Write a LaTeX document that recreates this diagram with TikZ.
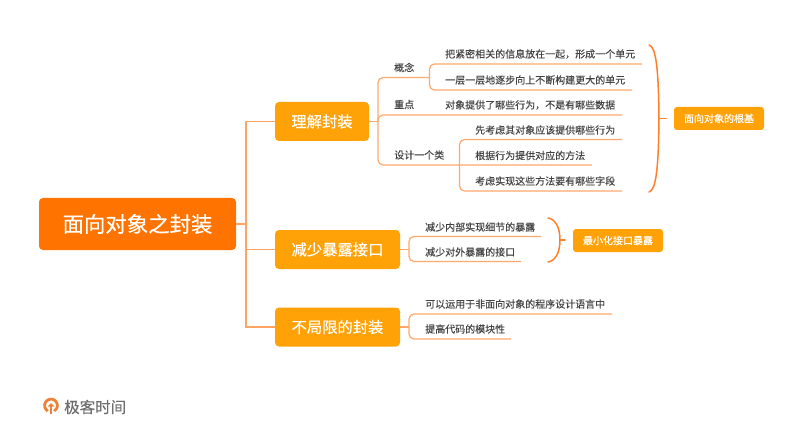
\documentclass[tikz,border=0pt]{standalone}
\usepackage{fontspec}
\setmainfont{Noto Sans CJK SC}
\newfontfamily\boxfont[FakeBold=0.35]{Noto Sans CJK SC}
\newfontfamily\leaffont[FakeBold=0.15]{Noto Sans CJK SC}
\usepackage{tikz}
\usetikzlibrary{positioning}
\definecolor{rootfill}{HTML}{FF7300}
\definecolor{mainfill}{HTML}{FFA208}
\definecolor{linkcol}{HTML}{FFA86B}
\definecolor{bracecol}{HTML}{FF7F2A}
\definecolor{textcol}{HTML}{444444}
\definecolor{logocol}{HTML}{EE8136}
\definecolor{logotext}{HTML}{6E6E6E}

\begin{document}
\begin{tikzpicture}[x=1pt, y=-1pt,
            root/.style = {fill=rootfill, text=white, rounded corners=4pt, font=\boxfont\fontsize{21.4}{24}\selectfont, inner sep=0pt, minimum width=197pt, minimum height=52pt},
            main/.style = {fill=mainfill, text=white, rounded corners=4pt, font=\boxfont\fontsize{15.3}{18}\selectfont, inner sep=0pt, minimum height=39pt},
            note/.style = {fill=mainfill, text=white, rounded corners=3pt, font=\boxfont\fontsize{10}{12}\selectfont, inner sep=0pt, minimum width=90pt, minimum height=23pt},
            leaf/.style = {anchor=west, text=textcol, font=\leaffont\fontsize{10}{12}\selectfont, inner sep=0pt},
            link/.style = {draw=linkcol, line width=1.2pt, rounded corners=5pt},
            trunk/.style = {draw=linkcol!90!bracecol, line width=1.6pt},
            curly/.style = {draw=bracecol, line width=1.5pt, line cap=round}]
            \useasboundingbox (0,0) rectangle (785,433);

            % boxes
            \node[root] (root) at (137.5,224) {面向对象之封装};
            \node[main, minimum width=94pt] (m1) at (322,121.5) {理解封装};
            \node[main, minimum width=125pt] (m2) at (337.5,249.5) {减少暴露接口};
            \node[main, minimum width=125pt] (m3) at (337.5,327) {不局限的封装};
            \node[note] (n1) at (719,118.5) {面向对象的根基};
            \node[note] (n2) at (618,240.5) {最小化接口暴露};

            % texts of the first box
            \node[leaf] (t1) at (394,67.5) {概念};
            \node[leaf] (t2) [below=37pt of t1.west, anchor=west] {重点};
            \node[leaf] (t3) [below=50.5pt of t2.west, anchor=west] {设计一个类};
            \node[leaf] (a1) at (445,54) {把紧密相关的信息放在一起，形成一个单元};
            \node[leaf] (a2) [below=26pt of a1.west, anchor=west] {一层一层地逐步向上不断构建更大的单元};
            \node[leaf] (a3) [below=25pt of a2.west, anchor=west] {对象提供了哪些行为，不是有哪些数据};
            \node[leaf] (b1) at (475,130) {先考虑其对象应该提供哪些行为};
            \node[leaf] (b2) [below=25.5pt of b1.west, anchor=west] {根据行为提供对应的方法};
            \node[leaf] (b3) [below=25.5pt of b2.west, anchor=west] {考虑实现这些方法要有哪些字段};

            % texts of the other two boxes
            \node[leaf] (c1) at (425,227) {减少内部实现细节的暴露};
            \node[leaf] (c2) [below=25pt of c1.west, anchor=west] {减少对外暴露的接口};
            \node[leaf] (d1) at (425,304) {可以运用于非面向对象的程序设计语言中};
            \node[leaf] (d2) [below=25pt of d1.west, anchor=west] {提高代码的模块性};

            % ends of the lines
            \coordinate (trunktop) at (246,121.5);
            \coordinate (trunkmid) at (246,224);
            \coordinate (trunkm2) at (246,249.5);
            \coordinate (trunkend) at (246,327);
            \coordinate (s1) at (378,121.5);
            \coordinate (s2) at (409,249.5);
            \coordinate (s3) at (409,327);
            \coordinate (f1) at (429.5,77.5);
            \coordinate (f2) at (459.5,165);
            \coordinate (t2e) at (622,115);
            \coordinate (t3e) at (592,165);
            \coordinate (a1e) at (642,64);
            \coordinate (a2e) at (632,90);
            \coordinate (b1e) at (622,139.5);
            \coordinate (b3e) at (622,191);
            \coordinate (c1e) at (541,236.5);
            \coordinate (c2e) at (521,261.5);
            \coordinate (d1e) at (612,314);
            \coordinate (d2e) at (511,339);

            \draw[trunk] (root.east) -- (trunkmid);
            \draw[trunk] (m1.west) -- (trunktop) -- (trunkend) -- (m3.west);
            \draw[trunk] (trunkm2) -- (m2.west);

            \draw[link] (m1.east) -- (s1);
            \draw[link] (s1) |- (f1);
            \draw[link] (s1) |- (t2e);
            \draw[link] (s1) |- (t3e);
            \draw[link] (f1) |- (a1e);
            \draw[link] (f1) |- (a2e);
            \draw[link] (f2) |- (b1e);
            \draw[link] (f2) |- (b3e);

            \draw[link] (m2.east) -- (s2);
            \draw[link] (s2) |- (c1e);
            \draw[link] (s2) |- (c2e);
            \draw[link] (m3.east) -- (s3);
            \draw[link] (s3) |- (d1e);
            \draw[link] (s3) |- (d2e);

            % braces
            \coordinate (k1) at (659,118.5);
            \coordinate (k2) at (666,118.5);
            \coordinate (k3) at (560,240);
            \coordinate (k4) at (565,240);
            \draw[curly] (649,45) .. controls (656,47) and (658.5,68) .. (k1) .. controls (658.5,169) and (656,190) .. (649,192);
            \draw[curly] (k1) -- (k2);
            \draw[curly] (548,218) .. controls (555,219) and (560,227) .. (k3) .. controls (560,253) and (555,261) .. (548,262);
            \draw[curly] (k3) -- (k4);

            % logo
            \draw[logocol, line width=2.8pt] (51,405.5) ++(120:6.4) arc (120:420:6.4);
            \draw[logocol, line width=1.6pt] (51,414) -- (51,405);
            \fill[logocol] (47.5,406.5) -- (51,403) -- (54.5,406.5) -- cycle;
            \node[anchor=west, inner sep=0pt, text=logotext, font=\boxfont\fontsize{15.5}{18}\selectfont] (logo) at (64,407) {极客时间};
\end{tikzpicture}
\end{document}
